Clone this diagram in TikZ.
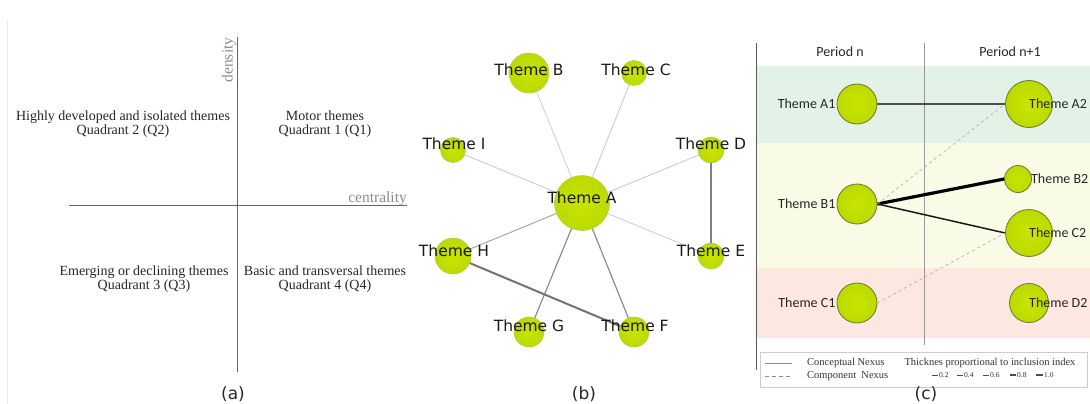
\documentclass[tikz,border=0pt]{standalone}
\usepackage{fontspec}
\setmainfont{Liberation Serif}
\newfontfamily\themefont{DejaVu Sans}
\newfontfamily\periodfont{Carlito}
\usetikzlibrary{positioning}

\definecolor{ballin}{RGB}{200,228,0}
\definecolor{ballout}{RGB}{146,184,0}
\definecolor{rimb}{RGB}{178,206,70}
\definecolor{rimc}{RGB}{105,120,40}
\definecolor{bandgreen}{RGB}{227,242,231}
\definecolor{bandyellow}{RGB}{250,251,230}
\definecolor{bandred}{RGB}{253,231,225}
\pgfdeclareradialshading{ballshade}{\pgfpoint{0bp}{0bp}}{color(0bp)=(ballin); color(28bp)=(ballin!75!ballout); color(50bp)=(ballout)}

\begin{document}
\begin{tikzpicture}[x=1pt, y=-1pt]
        % Define styles for shapes
        \tikzstyle{quad} = [font=\fontsize{14}{14.5}\selectfont, align=center, text=black!85, inner sep=0pt]
        \tikzstyle{axis} = [draw=black!60, line width=1pt]
        \tikzstyle{axislabel} = [font=\fontsize{15.5}{16}\selectfont, text=black!45, inner sep=0pt]
        \tikzstyle{bball} = [circle, shading=ballshade, draw=rimb, line width=0.6pt, inner sep=0pt]
        \tikzstyle{cball} = [circle, shading=ballshade, draw=rimc, line width=0.8pt, inner sep=0pt]
        \tikzstyle{btext} = [font=\themefont\fontsize{15.5}{16}\selectfont, text=black!90, inner sep=0pt]
        \tikzstyle{ctext} = [font=\periodfont\fontsize{14}{15}\selectfont, text=black!85, inner sep=0pt]
        \tikzstyle{legtext} = [font=\fontsize{10.5}{11}\selectfont, text=black!80, inner sep=0pt]
        \tikzstyle{legnum} = [font=\fontsize{7.5}{8}\selectfont, text=black!80, inner sep=0pt]
        \tikzstyle{caption} = [font=\themefont\fontsize{17}{18}\selectfont, text=black!85, inner sep=0pt, anchor=base]
        \useasboundingbox (0,0) rectangle (1090,404);

        % (a) strategic diagram
        \draw[black!8, line width=0.8pt] (7,20) -- (7,404);
        \coordinate (ytop) at (237,37);
        \coordinate (ybot) at (237,372);
        \coordinate (xleft) at (69,205);
        \coordinate (xright) at (407,205);
        \draw[axis] (ybot) -- (ytop);
        \draw[axis] (xleft) -- (xright);
        \node[axislabel, rotate=90] (density) at (229,60) {density};
        \node[axislabel, anchor=base east] (centrality) at (407,202) {centrality};
        \node[quad] (q2) at (123,124) {Highly developed and isolated themes\\Quadrant 2 (Q2)};
        \node[quad] (q1) at (325,124) {Motor themes\\Quadrant 1 (Q1)};
        \node[quad] (q3) at (144,279) {Emerging or declining themes\\Quadrant 3 (Q3)};
        \node[quad] (q4) at (325,279) {Basic and transversal themes\\Quadrant 4 (Q4)};
        \node[caption] (capa) at (233,399) {(a)};

        % (b) thematic network
        \node[bball, minimum size=55pt] (A) at (582,203) {};
        \node[bball, minimum size=40pt] (B) at (529,73) {};
        \node[bball, minimum size=25pt] (C) at (634,73) {};
        \node[bball, minimum size=25pt] (I) at (453,150) {};
        \node[bball, minimum size=26pt] (D) at (711,150) {};
        \node[bball, minimum size=26pt] (E) at (711,256) {};
        \node[bball, minimum size=36pt] (H) at (453,256) {};
        \node[bball, minimum size=30pt] (G) at (529,332) {};
        \node[bball, minimum size=30pt] (F) at (634,332) {};
        \draw[black!20, line width=0.8pt] (A) -- (B);
        \draw[black!22, line width=0.8pt] (A) -- (C);
        \draw[black!22, line width=0.8pt] (A) -- (I);
        \draw[black!22, line width=0.8pt] (A) -- (D);
        \draw[black!20, line width=0.8pt] (A) -- (E);
        \draw[black!35, line width=1pt] (A) -- (H);
        \draw[black!45, line width=1.2pt] (A) -- (G);
        \draw[black!45, line width=1.2pt] (A) -- (F);
        \draw[black!50, line width=1.8pt] (D) -- (E);
        \draw[black!55, line width=2pt] (H) -- (F);
        \node[btext] (tA) at ([yshift=5pt]A) {Theme A};
        \node[btext] (tB) at ([yshift=3pt]B) {Theme B};
        \node[btext] (tC) at ([yshift=3pt,xshift=2pt]C) {Theme C};
        \node[btext] (tI) at ([yshift=6pt,xshift=1pt]I) {Theme I};
        \node[btext] (tD) at ([yshift=6pt]D) {Theme D};
        \node[btext] (tE) at ([yshift=5pt]E) {Theme E};
        \node[btext] (tH) at ([yshift=5pt,xshift=1pt]H) {Theme H};
        \node[btext] (tG) at ([yshift=6pt]G) {Theme G};
        \node[btext] (tF) at ([yshift=6pt,xshift=1pt]F) {Theme F};
        \node[caption] (capb) at (584,399) {(b)};

        % (c) thematic evolution, bands first
        \fill[bandgreen] (757,66) rectangle (1090,143);
        \fill[bandyellow] (757,143) rectangle (1090,268);
        \fill[bandred] (757,268) rectangle (1090,338);
        \draw[black!65, line width=1pt] (756,43) -- (756,370);
        \draw[black!40, line width=0.6pt] (924,43) -- (924,345);
        \node[ctext] (pn) at (840,52) {Period n};
        \node[ctext] (pn1) at (1010,52) {Period n+1};
        \node[cball, minimum size=40pt] (A1) at (857,104) {};
        \node[cball, minimum size=40pt] (B1) at (857,204) {};
        \node[cball, minimum size=40pt] (C1) at (857,303) {};
        \node[cball, minimum size=47pt] (A2) at (1029,104) {};
        \node[cball, minimum size=27pt] (B2) at (1018,179) {};
        \node[cball, minimum size=47pt] (C2) at (1029,233) {};
        \node[cball, minimum size=39pt] (D2) at (1029,303) {};
        % nexus between periods
        \draw[black!70, line width=1.3pt] (A1.east) -- (A2.west);
        \draw[black, line width=3.2pt] (B1.east) -- (B2.west);
        \draw[black!90, line width=1.5pt] (B1.east) -- (C2.west);
        \draw[black!30, line width=0.7pt, dashed] (B1.east) -- (A2.west);
        \draw[black!30, line width=0.7pt, dashed] (C1.east) -- (C2.west);
        \node[ctext, left=1pt of A1] (tA1) {Theme A1};
        \node[ctext, left=1pt of B1] (tB1) {Theme B1};
        \node[ctext, left=1pt of C1] (tC1) {Theme C1};
        \node[ctext, right=0pt of A2.center] (tA2) {Theme A2};
        \node[ctext, right=-1pt of B2.east] (tB2) {Theme B2};
        \node[ctext, right=0pt of C2.center] (tC2) {Theme C2};
        \node[ctext, right=0pt of D2.center] (tD2) {Theme D2};

        % legend
        \draw[black!20, fill=white, line width=0.6pt] (760,352) rectangle (1087,387);
        \draw[black!45, line width=0.6pt] (765,363) -- (792,363);
        \draw[black!45, line width=0.6pt, dash pattern=on 4pt off 3pt] (765,376) -- (792,376);
        \node[legtext, anchor=west] (concept) at (807,363) {Conceptual Nexus};
        \node[legtext, anchor=west] (compo) at (807,376) {Component\ \ Nexus};
        \node[legtext] (thick) at (990,363) {Thicknes proportional to inclusion index};
        \draw[black!70, line width=0.4pt] (932,375) -- (938,375);
        \node[legnum, anchor=west] (w2) at (939,375) {0.2};
        \draw[black!70, line width=0.7pt] (957,375) -- (963,375);
        \node[legnum, anchor=west] (w4) at (964,375) {0.4};
        \draw[black!70, line width=1pt] (983,375) -- (989,375);
        \node[legnum, anchor=west] (w6) at (990,375) {0.6};
        \draw[black!70, line width=1.3pt] (1010,375) -- (1016,375);
        \node[legnum, anchor=west] (w8) at (1017,375) {0.8};
        \draw[black!70, line width=1.8pt] (1036,375) -- (1043,375);
        \node[legnum, anchor=west] (w10) at (1044,375) {1.0};
        \node[caption] (capc) at (926,399) {(c)};
    \end{tikzpicture}
\end{document}
